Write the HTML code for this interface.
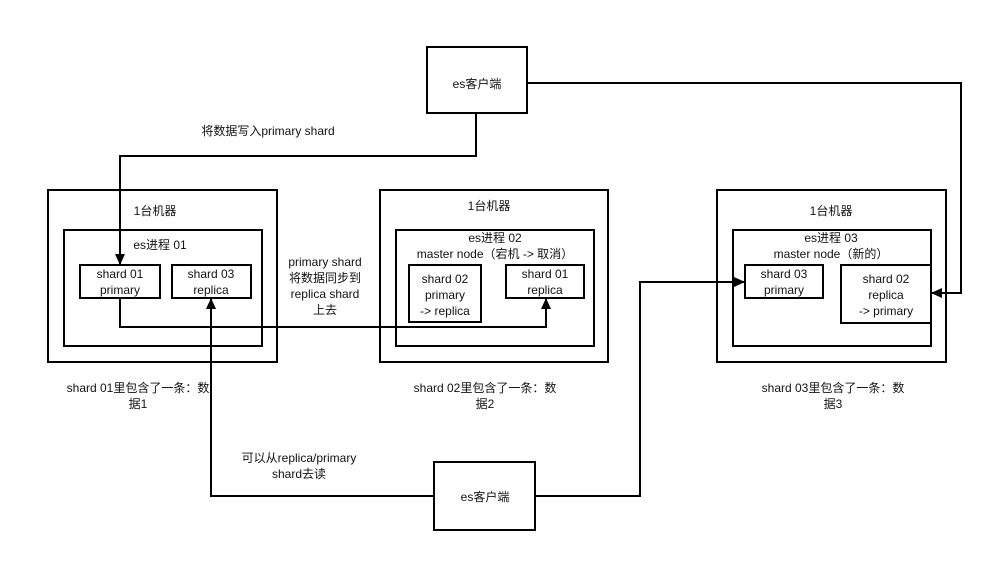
<!DOCTYPE html>
<html><head><meta charset="utf-8"><style>
html,body{margin:0;padding:0;background:#fff;}
svg{display:block;}
text{font-family:"Liberation Sans","Noto Sans CJK SC",sans-serif;font-size:12px;fill:#111;text-anchor:middle;}
</style></head><body>
<svg width="993" height="564" viewBox="0 0 993 564" xmlns="http://www.w3.org/2000/svg">
<defs><marker id="a" markerWidth="11" markerHeight="10" refX="10" refY="5" orient="auto" markerUnits="userSpaceOnUse"><path d="M0,0 L11,5 L0,10 Z" fill="#000"/></marker></defs>
<g fill="none" stroke="#000" stroke-width="2">
<rect x="427" y="47" width="100" height="66"/>
<rect x="434" y="462" width="101" height="68"/>
<rect x="48" y="190" width="229" height="172"/>
<rect x="64" y="230" width="198" height="116"/>
<rect x="80" y="265" width="80" height="33"/>
<rect x="172" y="265" width="79" height="33"/>
<rect x="380" y="190" width="228" height="172"/>
<rect x="396" y="230" width="198" height="116"/>
<rect x="409" y="265" width="72" height="57"/>
<rect x="506" y="265" width="78" height="33"/>
<rect x="717" y="190" width="229" height="172"/>
<rect x="733" y="230" width="198" height="116"/>
<rect x="745" y="265" width="78" height="33"/>
<rect x="841" y="265" width="90" height="58"/>
<path d="M476,113 V156 H120 V264" marker-end="url(#a)"/>
<path d="M120,298 V327 H546 V299" marker-end="url(#a)"/>
<path d="M527,83 H961 V293 H932" marker-end="url(#a)"/>
<path d="M434,496 H211 V299" marker-end="url(#a)"/>
<path d="M535,496 H640 V282 H744" marker-end="url(#a)"/>
</g>
<text x="477" y="88">es客户端</text>
<text x="485" y="501">es客户端</text>
<text x="268" y="135">将数据写入primary shard</text>
<text x="155" y="215">1台机器</text>
<text x="160" y="249">es进程 01</text>
<text x="120" y="278">shard 01</text><text x="120" y="294">primary</text>
<text x="211" y="278">shard 03</text><text x="211" y="294">replica</text>
<text x="325" y="266">primary shard</text>
<text x="325" y="282">将数据同步到</text>
<text x="325" y="298">replica shard</text>
<text x="325" y="314">上去</text>
<text x="489" y="210">1台机器</text>
<text x="495" y="242">es进程 02</text>
<text x="495" y="258">master node（宕机 -&gt; 取消）</text>
<text x="445" y="283">shard 02</text><text x="445" y="299">primary</text><text x="445" y="315">-&gt; replica</text>
<text x="545" y="278">shard 01</text><text x="545" y="294">replica</text>
<text x="831" y="215">1台机器</text>
<text x="831" y="242">es进程 03</text>
<text x="831" y="258">master node（新的）</text>
<text x="784" y="278">shard 03</text><text x="784" y="294">primary</text>
<text x="886" y="283">shard 02</text><text x="886" y="299">replica</text><text x="886" y="315">-&gt; primary</text>
<text x="138" y="392">shard 01里包含了一条：数</text><text x="138" y="408">据1</text>
<text x="485" y="392">shard 02里包含了一条：数</text><text x="485" y="408">据2</text>
<text x="833" y="392">shard 03里包含了一条：数</text><text x="833" y="408">据3</text>
<text x="299" y="462">可以从replica/primary</text><text x="299" y="478">shard去读</text>
</svg>
</body></html>
